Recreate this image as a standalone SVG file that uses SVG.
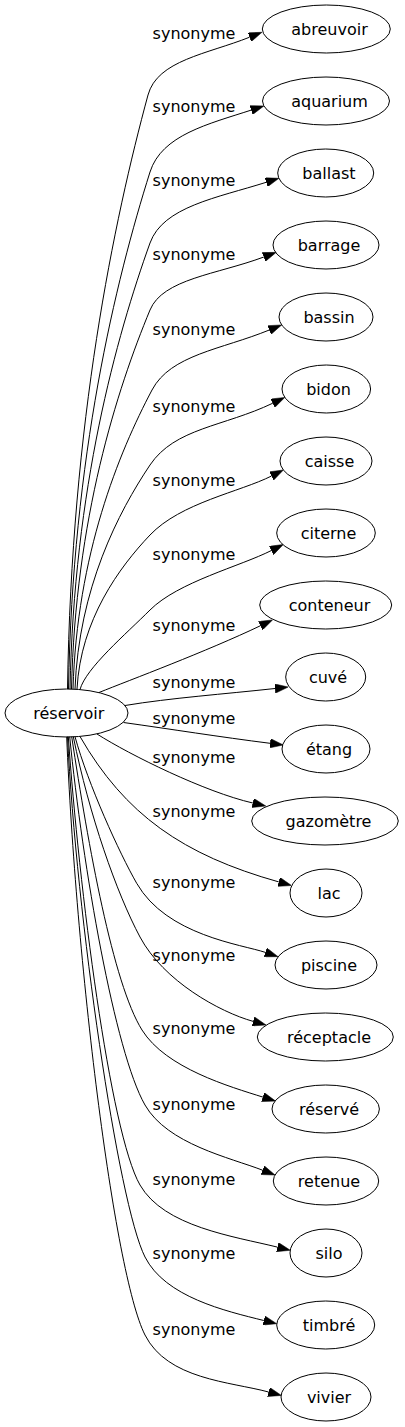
<svg xmlns="http://www.w3.org/2000/svg" width="405" height="1427" viewBox="0 0 405 1427">
<style>
.node ellipse{fill:none;stroke:#000;stroke-width:1}
.node text{font-family:"DejaVu Sans","Liberation Sans",sans-serif;font-size:16px;text-anchor:middle;fill:#000}
.edge path{fill:none;stroke:#000;stroke-width:1;marker-end:url(#arr)}
.edge text{font-family:"DejaVu Sans","Liberation Sans",sans-serif;font-size:16px;text-anchor:middle;fill:#000}
</style>
<defs>
<marker id="arr" markerUnits="userSpaceOnUse" viewBox="0 0 13.3 9.34" markerWidth="13.3" markerHeight="9.34" refX="0" refY="4.67" orient="auto">
<path d="M0,0 L13.3,4.67 L0,9.34 Z" fill="#000" stroke="#000" stroke-width="0.5"/>
</marker>
</defs>
<rect width="405" height="1427" fill="#fff"/>
<g id="edges">
<g class="edge"><path d="M67.5,689 C71.5,421.7 114.2,219.7 148,95 C157.4,60.3 207.1,54.1 249.6,37.2"/><text x="194" y="38.5">synonyme</text></g>
<g class="edge"><path d="M68.5,689 C72.6,456.4 115.8,280.6 150,172 C161.7,134.9 208.6,124 251.2,110.1"/><text x="194" y="111.5">synonyme</text></g>
<g class="edge"><path d="M70,689 C74,488.3 116.4,336.7 150,243 C163.1,206.6 217.2,197.8 266.2,182.3"/><text x="194" y="186">synonyme</text></g>
<g class="edge"><path d="M71.5,689 C75.4,518.5 117,389.6 150,310 C162.9,278.8 216.9,274.5 263.8,257"/><text x="194" y="259.5">synonyme</text></g>
<g class="edge"><path d="M73,689 C77,554.5 118.8,452.8 152,390 C170.7,354.6 221.3,349.6 269.3,330"/><text x="194" y="334.5">synonyme</text></g>
<g class="edge"><path d="M75,689 C78.8,588.2 118.5,512 150,465 C174.9,427.9 223.7,426.7 272.8,403.2"/><text x="194" y="411.5">synonyme</text></g>
<g class="edge"><path d="M77,689 C80.7,619.7 119.3,567.3 150,535 C180.7,502.7 240.3,491.8 271.5,476"/><text x="194" y="486">synonyme</text></g>
<g class="edge"><path d="M80,689.5 C86,668 126,634 150,610 C178,582 240.2,566.3 271.4,550.5"/><text x="194" y="560">synonyme</text></g>
<g class="edge"><path d="M99,692.5 C130,680 206.5,651.5 260.5,625.7"/><text x="194" y="631">synonyme</text></g>
<g class="edge"><path d="M125,705.5 C170,698 225,694 275,688.5"/><text x="194" y="687.5">synonyme</text></g>
<g class="edge"><path d="M123.5,722.5 C170,729 220,737 270.1,743.3"/><text x="194" y="724">synonyme</text></g>
<g class="edge"><path d="M97,734 C130,755 205,792 252.8,803"/><text x="194" y="763">synonyme</text></g>
<g class="edge"><path d="M80,736.5 C125,814.6 182.7,854.9 278.7,881.9"/><text x="194" y="817">synonyme</text></g>
<g class="edge"><path d="M75,736.7 C88,784 119.2,852.8 136.7,883.3 C166.7,935.5 241.6,944.4 265.4,952.4"/><text x="194" y="888">synonyme</text></g>
<g class="edge"><path d="M73.3,736.7 C89.3,815.1 116.5,893 140,937 C163.5,981 219.6,1012 253.2,1021.4"/><text x="194" y="961">synonyme</text></g>
<g class="edge"><path d="M71.7,736.7 C88.2,845.6 112.9,983.3 142,1030 C165.9,1068.3 229.7,1086.6 262.9,1097.1"/><text x="194" y="1034">synonyme</text></g>
<g class="edge"><path d="M69.7,736.7 C82.7,867 115,1052.8 145,1105 C167.5,1144.2 230,1157.6 262.6,1170.2"/><text x="194" y="1110">synonyme</text></g>
<g class="edge"><path d="M68.3,736.7 C78.8,886.7 110,1132.8 140,1185 C164,1226.8 233.7,1236.3 277.4,1247.1"/><text x="194" y="1185">synonyme</text></g>
<g class="edge"><path d="M67.5,736.7 C76.5,916.7 118,1203.6 145,1257 C165.3,1297 225,1310.9 263.8,1320.5"/><text x="194" y="1259">synonyme</text></g>
<g class="edge"><path d="M66.7,736.7 C75.5,956.7 113.5,1272.7 145,1335 C167.5,1379.5 229.8,1381.6 268.6,1392"/><text x="194" y="1335">synonyme</text></g>
</g>
<g id="n-reservoir" class="node"><ellipse cx="66.5" cy="713" rx="61.5" ry="24"/><text x="68.8" y="718.5">réservoir</text></g>
<g id="n-abreuvoir" class="node"><ellipse cx="326.3" cy="29" rx="64" ry="24"/><text x="329.5" y="34.5">abreuvoir</text></g>
<g id="n-aquarium" class="node"><ellipse cx="326" cy="101" rx="63.5" ry="24"/><text x="329.5" y="106.5">aquarium</text></g>
<g id="n-ballast" class="node"><ellipse cx="325.7" cy="173" rx="48" ry="24"/><text x="329" y="178.5">ballast</text></g>
<g id="n-barrage" class="node"><ellipse cx="326" cy="245" rx="53" ry="24"/><text x="329" y="250.5">barrage</text></g>
<g id="n-bassin" class="node"><ellipse cx="326" cy="317" rx="47" ry="24"/><text x="329" y="322.5">bassin</text></g>
<g id="n-bidon" class="node"><ellipse cx="326.3" cy="389" rx="44.3" ry="24"/><text x="328.5" y="394.5">bidon</text></g>
<g id="n-caisse" class="node"><ellipse cx="326" cy="461" rx="46" ry="24"/><text x="329.5" y="466.5">caisse</text></g>
<g id="n-citerne" class="node"><ellipse cx="326" cy="533" rx="49.3" ry="24"/><text x="328.5" y="538.5">citerne</text></g>
<g id="n-conteneur" class="node"><ellipse cx="325.7" cy="605" rx="66" ry="24"/><text x="329.5" y="610.5">conteneur</text></g>
<g id="n-cuve" class="node"><ellipse cx="325.7" cy="677" rx="40" ry="24"/><text x="328" y="682.5">cuvé</text></g>
<g id="n-etang" class="node"><ellipse cx="326" cy="749" rx="44" ry="24"/><text x="329" y="754.5">étang</text></g>
<g id="n-gazometre" class="node"><ellipse cx="325" cy="821" rx="73.3" ry="24"/><text x="328.5" y="826.5">gazomètre</text></g>
<g id="n-lac" class="node"><ellipse cx="326" cy="893" rx="36" ry="24"/><text x="329" y="898.5">lac</text></g>
<g id="n-piscine" class="node"><ellipse cx="326" cy="965" rx="51" ry="24"/><text x="329" y="970.5">piscine</text></g>
<g id="n-receptacle" class="node"><ellipse cx="325.3" cy="1037" rx="68" ry="24"/><text x="329" y="1042.5">réceptacle</text></g>
<g id="n-reserve" class="node"><ellipse cx="325.7" cy="1109" rx="53.7" ry="24"/><text x="329" y="1114.5">réservé</text></g>
<g id="n-retenue" class="node"><ellipse cx="326" cy="1181" rx="52.7" ry="24"/><text x="329" y="1186.5">retenue</text></g>
<g id="n-silo" class="node"><ellipse cx="326" cy="1253" rx="36" ry="24"/><text x="329" y="1258.5">silo</text></g>
<g id="n-timbre" class="node"><ellipse cx="325.7" cy="1325" rx="49" ry="24"/><text x="329" y="1330.5">timbré</text></g>
<g id="n-vivier" class="node"><ellipse cx="326" cy="1397" rx="45" ry="24"/><text x="329" y="1402.5">vivier</text></g>
</svg>
